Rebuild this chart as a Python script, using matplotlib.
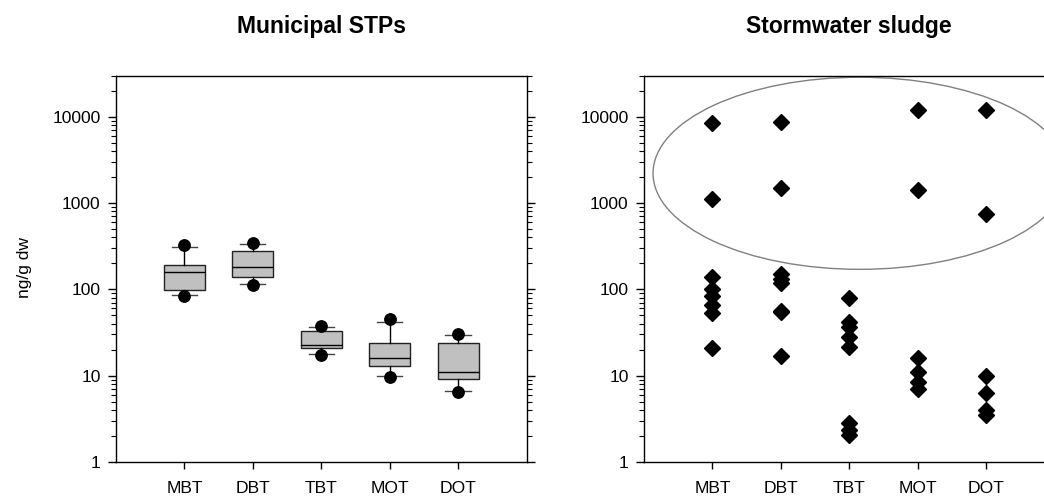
import matplotlib
matplotlib.use("Agg")
import matplotlib.pyplot as plt
from matplotlib.patches import Ellipse
from matplotlib.ticker import FixedLocator, NullFormatter, LogLocator

plt.rcParams['font.family'] = ['Liberation Sans', 'DejaVu Sans']

compounds = ["MBT", "DBT", "TBT", "MOT", "DOT"]

# Municipal STPs box statistics (ng/g dw)
box_q1 = [99, 140, 20.9, 12.9, 9.1]
box_med = [160, 182, 22.7, 16.2, 11.1]
box_q3 = [190, 281, 33.2, 24.1, 24.1]
box_lo = [87, 115, 17.7, 9.8, 6.6]
box_hi = [312, 339, 36.7, 42.2, 29.4]
dot_lo = [84, 112, 17.2, 9.6, 6.4]
dot_hi = [324, 348, 37.4, 45.4, 30.4]

# Stormwater sludge single samples (ng/g dw)
storm_mbt = [8400, 1100, 140, 101, 84, 65, 53, 21]
storm_dbt = [8700, 1510, 152, 133, 120, 56, 54, 17]
storm_tbt = [80, 42, 37, 28, 21.7, 2.8, 2.35, 2.05]
storm_mot = [12000, 1420, 16.2, 11.1, 8.5, 7.0]
storm_dot = [12000, 740, 9.9, 6.25, 4.0, 3.5]
storm = [storm_mbt, storm_dbt, storm_tbt, storm_mot, storm_dot]

W, H = 1044, 496
fig = plt.figure(figsize=(W / 100, H / 100), dpi=100)

ax_w = 410.5 / W
ax_h = 386.5 / H
ax_b = (H - 462) / H
ax1 = fig.add_axes([116 / W, ax_b, ax_w, ax_h])
ax2 = fig.add_axes([644 / W, ax_b, ax_w, ax_h])

pos = list(range(1, len(compounds) + 1))

stats = []
for i, c in enumerate(compounds):
    stats.append(dict(label=c, q1=box_q1[i], med=box_med[i], q3=box_q3[i],
                      whislo=box_lo[i], whishi=box_hi[i],
                      fliers=[dot_lo[i], dot_hi[i]]))

ax1.bxp(stats, positions=pos, widths=0.6, capwidths=0.37, patch_artist=True,
        boxprops=dict(facecolor='#c0c0c0', edgecolor='#222222', linewidth=1.0),
        medianprops=dict(color='black', linewidth=1.0),
        whiskerprops=dict(color='black', linewidth=1.0),
        capprops=dict(color='#444444', linewidth=1.0),
        flierprops=dict(marker='o', markerfacecolor='black', markeredgecolor='black',
                        markersize=8.2))

for i, vals in enumerate(storm):
    ax2.plot([pos[i]] * len(vals), vals, linestyle='none', marker='D',
             markersize=8, color='black', clip_on=False)

ax2.add_patch(Ellipse((0.526, 0.747), 1.008, 0.497, transform=ax2.transAxes,
                      fill=False, edgecolor='#808080', linewidth=1.0, clip_on=False))

for ax, title in [(ax1, "Municipal STPs"), (ax2, "Stormwater sludge")]:
    ax.set_yscale('log')
    ax.set_ylim(1, 30000)
    ax.set_xlim(0, 6)
    ax.set_xticks(pos)
    ax.set_xticklabels(compounds)
    ax.yaxis.set_major_locator(FixedLocator([1, 10, 100, 1000, 10000]))
    ax.set_yticklabels(["1", "10", "100", "1000", "10000"])
    ax.yaxis.set_minor_locator(LogLocator(base=10, subs=range(2, 10)))
    ax.yaxis.set_minor_formatter(NullFormatter())
    ax.tick_params(axis='y', which='major', direction='out', length=6, width=1,
                   labelsize=12.6, pad=5, left=True, right=True)
    ax.tick_params(axis='y', which='minor', direction='out', length=3.5, width=0.8,
                   left=True, right=True)
    ax.tick_params(axis='x', which='major', direction='out', length=5, width=1,
                   labelsize=12.6, pad=9, top=False)
    for s in ax.spines.values():
        s.set_linewidth(1.0)
        s.set_color('black')
    ax.text(0.5, 1 + 42 / 386.5, title, transform=ax.transAxes, ha='center',
            va='baseline', fontsize=16.5, fontweight='bold')

fig.text(24 / W, 1 - 268 / H, "ng/g dw", rotation=90, ha='center', va='center',
         fontsize=12.6)

fig.savefig("out.png", dpi=100)
